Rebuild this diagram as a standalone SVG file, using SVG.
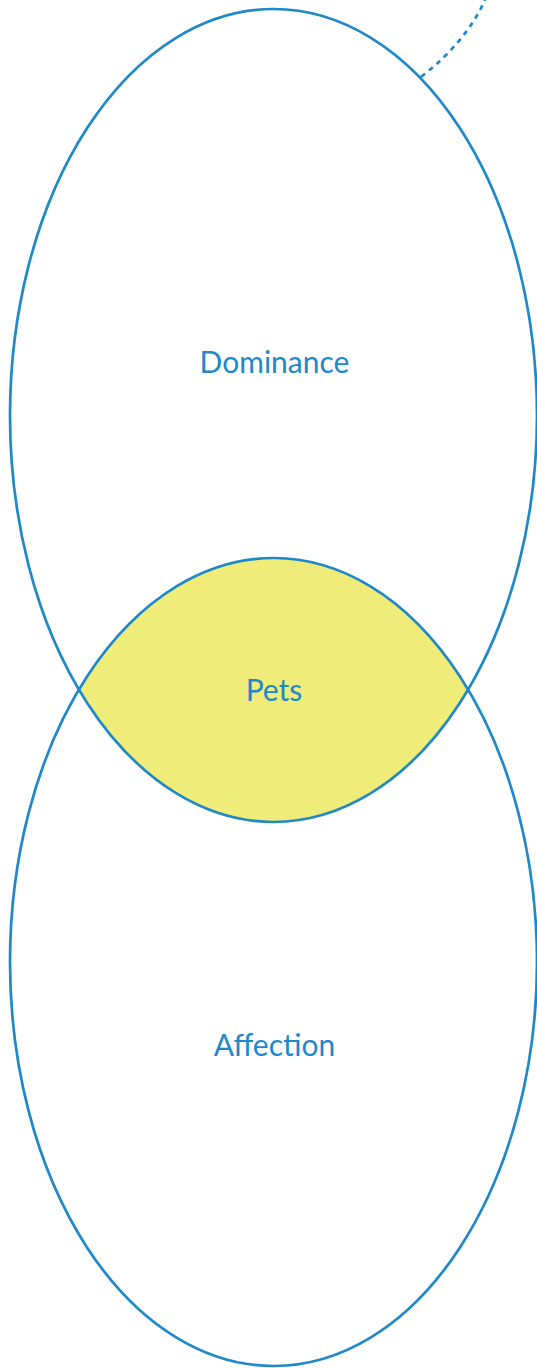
<svg xmlns="http://www.w3.org/2000/svg" width="537" height="1368" viewBox="0 0 537 1368">
<style>
.ring{fill:none;stroke:#1E88C8;stroke-width:2.7}
.lbl{font-family:Lato,"Open Sans",sans-serif;font-size:30px;fill:#1E88C8;text-anchor:middle}
.dash{fill:none;stroke:#1E88C8;stroke-width:2.7;stroke-dasharray:5 5}
</style>
<defs>
<clipPath id="clipTop"><ellipse cx="273.5" cy="415.5" rx="263.5" ry="406.5"/></clipPath>
</defs>
<rect width="537" height="1368" fill="#ffffff"/>
<g id="pets">
<ellipse cx="273.5" cy="962" rx="263.5" ry="404" fill="#F0EC7A" clip-path="url(#clipTop)"/>
<text class="lbl" x="274" y="701">Pets</text>
</g>
<g id="dominance">
<ellipse class="ring" cx="273.5" cy="415.5" rx="263.5" ry="406.5"/>
<text class="lbl" x="274.5" y="373">Dominance</text>
</g>
<g id="affection">
<ellipse class="ring" cx="273.5" cy="962" rx="263.5" ry="404"/>
<text class="lbl" x="274.5" y="1056">Affection</text>
</g>
<g id="connectors">
<path class="dash" d="M421,77 Q466,42 485,0"/>
</g>
</svg>
